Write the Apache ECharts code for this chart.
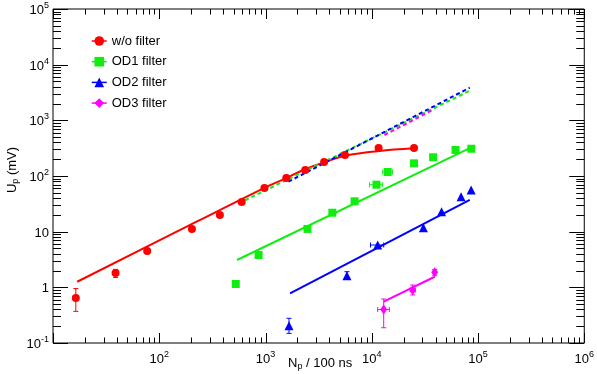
<!DOCTYPE html>
<html>
<head>
<meta charset="utf-8">
<script src="https://cdn.jsdelivr.net/npm/echarts@6/dist/echarts.min.js"></script>
<style>
  html, body { margin: 0; padding: 0; background: #fff; }
  #chart { width: 597px; height: 374px; }
</style>
</head>
<body>
<div id="chart"></div>
<script>
const FONT = '"Liberation Sans", Arial, Helvetica, sans-serif';

// Pulse amplitude U_p (mV) against photon number N_p per 100 ns
const noFilterN = [16.4, 38.8, 77, 203, 372, 597, 977, 1570, 2365, 3560, 5593, 11600, 25000];
const noFilterU = [0.64, 1.81, 4.5, 11.2, 19.9, 34, 61, 92, 128, 178, 238, 318, 318];
const od1N = [525, 861, 2484, 4256, 6890, 11070, 14130, 25000, 37800, 61400, 86500];
const od1U = [1.15, 3.81, 11.2, 21.9, 35.1, 69.8, 118, 169, 217, 293, 309];
const od2N = [1664, 5840, 11370, 30600, 45400, 69300, 86100];
const od2U = [0.205, 1.62, 5.76, 11.8, 22.9, 42.5, 56];
const od3N = [12950, 24300, 39100];
const od3U = [0.40, 0.895, 1.86];

// Error bars: [point index, N low, N high, U low, U high]  (0 = no bar)
const noFilterErr = [[0, 0, 0, 0.37, 0.95], [1, 0, 0, 1.5, 2.1]];
const od1Err = [[0, 0, 0, 1.0, 1.32], [5, 9530, 12680, 0, 0], [6, 12680, 15700, 0, 0]];
const od2Err = [[0, 0, 0, 0.149, 0.278], [1, 0, 0, 1.4, 1.91], [2, 9730, 12950, 0, 0]];
const od3Err = [[0, 11370, 14630, 0.188, 0.617], [1, 23000, 25700, 0.73, 1.10], [2, 0, 0, 1.65, 2.1]];

// Fit curves
const noFilterFitN = [16.9, 237, 957, 1549, 2350, 3556, 5624, 11800, 25000];
const noFilterFitU = [1.26, 15.9, 60.1, 90.8, 132, 176, 231, 281, 314];
const od1FitN = [539, 86500];
const od1FitU = [3.1, 327];
const od2FitN = [1702, 83600];
const od2FitU = [0.782, 37.1];
const od3FitN = [12950, 39100];
const od3FitU = [0.552, 1.55];

// Fits scaled back by the filter attenuation (dashed)
const od1ScaledN = [560, 83600];
const od1ScaledU = [32.3, 3400];
const od2ScaledN = [1641, 83600];
const od2ScaledU = [78.9, 3855];
const od3ScaledN = [13150, 38500];
const od3ScaledU = [545, 1578];

// Axis decades
const xDecades = [1, 2, 3, 4, 5, 6];
const yDecades = [-1, 0, 1, 2, 3, 4, 5];
const minorSteps = [2, 3, 4, 5, 6, 7, 8, 9];

const names = ['w/o filter', 'OD1 filter', 'OD2 filter', 'OD3 filter'];
const colors = ['#ff0000', '#10ee10', '#0000ff', '#ff00ff'];

const zip = (a, b) => a.map((v, i) => [v, b[i]]);

function errData(n, u, errs) {
  return errs.map(e => [n[e[0]], u[e[0]], e[1], e[2], e[3], e[4]]);
}

function errRender(color) {
  return function (params, api) {
    const x = api.value(0), y = api.value(1);
    const c = api.coord([x, y]);
    const kids = [];
    const st = { stroke: color, lineWidth: 1 };
    const cap = 2.5;
    const nLo = api.value(2), nHi = api.value(3), uLo = api.value(4), uHi = api.value(5);
    if (uLo > 0 && uHi > 0) {
      const lo = api.coord([x, uLo]), hi = api.coord([x, uHi]);
      kids.push({ type: 'line', shape: { x1: c[0], y1: lo[1], x2: c[0], y2: hi[1] }, style: st });
      kids.push({ type: 'line', shape: { x1: c[0] - cap, y1: lo[1], x2: c[0] + cap, y2: lo[1] }, style: st });
      kids.push({ type: 'line', shape: { x1: c[0] - cap, y1: hi[1], x2: c[0] + cap, y2: hi[1] }, style: st });
    }
    if (nLo > 0 && nHi > 0) {
      const lo = api.coord([nLo, y]), hi = api.coord([nHi, y]);
      kids.push({ type: 'line', shape: { x1: lo[0], y1: c[1], x2: hi[0], y2: c[1] }, style: st });
      kids.push({ type: 'line', shape: { x1: lo[0], y1: c[1] - cap, x2: lo[0], y2: c[1] + cap }, style: st });
      kids.push({ type: 'line', shape: { x1: hi[0], y1: c[1] - cap, x2: hi[0], y2: c[1] + cap }, style: st });
    }
    return { type: 'group', children: kids };
  };
}

// Tick marks on all four frame sides: [x, y, kind(0=y,1=x), major]
const tickData = [];
yDecades.forEach(d => {
  tickData.push([10, Math.pow(10, d), 0, 1]);
  if (d < 5) minorSteps.forEach(m => tickData.push([10, m * Math.pow(10, d), 0, 0]));
});
xDecades.forEach(d => {
  tickData.push([Math.pow(10, d), 0.1, 1, 1]);
  if (d < 6) minorSteps.forEach(m => tickData.push([m * Math.pow(10, d), 0.1, 1, 0]));
});

function tickRender(params, api) {
  const kind = api.value(2), major = api.value(3);
  const st = { stroke: '#000', lineWidth: 1 };
  if (kind === 0) {
    const v = api.value(1);
    const l = api.coord([10, v]), r = api.coord([1e6, v]);
    const len = major ? 15 : 8;
    const y = Math.round(l[1]) + 0.5;
    return { type: 'group', children: [
      { type: 'line', shape: { x1: l[0], y1: y, x2: l[0] + len, y2: y }, style: st },
      { type: 'line', shape: { x1: r[0], y1: y, x2: r[0] - len, y2: y }, style: st }
    ] };
  } else {
    const v = api.value(0);
    const b = api.coord([v, 0.1]), t = api.coord([v, 1e5]);
    const len = major ? 10 : 5.5;
    const x = Math.round(b[0]) + 0.5;
    return { type: 'group', children: [
      { type: 'line', shape: { x1: x, y1: b[1], x2: x, y2: b[1] - len }, style: st },
      { type: 'line', shape: { x1: x, y1: t[1], x2: x, y2: t[1] + len }, style: st }
    ] };
  }
}

const richPow = {
  b: { fontFamily: FONT, fontSize: 13, color: '#000', lineHeight: 16, verticalAlign: 'bottom' },
  s: { fontFamily: FONT, fontSize: 9, color: '#000', lineHeight: 6, verticalAlign: 'top' }
};

function powLabel(v, hideTen) {
  const e = Math.round(Math.log10(v));
  if (e === 0) return '{b|1}';
  if (e === 1) return hideTen ? '' : '{b|10}';
  return '{b|10}{s|' + e + '}';
}

const pointSets = [
  { n: noFilterN, u: noFilterU, err: noFilterErr, symbol: 'circle', size: 8 },
  { n: od1N, u: od1U, err: od1Err, symbol: 'rect', size: 8 },
  { n: od2N, u: od2U, err: od2Err, symbol: 'triangle', size: 9 },
  { n: od3N, u: od3U, err: od3Err, symbol: 'diamond', size: [7, 10] }
];
const fits = [
  [noFilterFitN, noFilterFitU],
  [od1FitN, od1FitU],
  [od2FitN, od2FitU],
  [od3FitN, od3FitU]
];
const scaled = [
  [od1ScaledN, od1ScaledU, colors[1]],
  [od2ScaledN, od2ScaledU, colors[2]],
  [od3ScaledN, od3ScaledU, colors[3]]
];

const series = [];
series.push({
  type: 'custom', coordinateSystem: 'cartesian2d', data: tickData,
  renderItem: tickRender, clip: false, silent: true, z: 1
});
fits.forEach((f, i) => {
  series.push({
    type: 'line', data: zip(f[0], f[1]), showSymbol: false, symbol: 'none',
    smooth: i === 0 ? 0.35 : false,
    lineStyle: { color: colors[i], width: 2 }, silent: true, z: 2
  });
});
scaled.forEach(s => {
  series.push({
    type: 'line', data: zip(s[0], s[1]), showSymbol: false, symbol: 'none',
    lineStyle: { color: s[2], width: 2, type: [4, 3] }, silent: true, z: 3
  });
});
pointSets.forEach((p, i) => {
  series.push({
    type: 'custom', coordinateSystem: 'cartesian2d', data: errData(p.n, p.u, p.err),
    renderItem: errRender(colors[i]), silent: true, z: 4, encode: { x: 0, y: 1 }
  });
});
pointSets.forEach((p, i) => {
  series.push({
    name: names[i], type: 'line', data: zip(p.n, p.u),
    symbol: p.symbol, symbolSize: p.size, showSymbol: true,
    itemStyle: { color: colors[i] },
    lineStyle: { color: colors[i], width: 1.5, opacity: 0 },
    silent: true, z: 5
  });
});

const chart = echarts.init(document.getElementById('chart'), null, { renderer: 'canvas' });
chart.setOption({
  animation: false,
  backgroundColor: '#fff',
  textStyle: { fontFamily: FONT },
  grid: { left: 53, right: 9, top: 9, bottom: 31, show: true, borderColor: '#000', borderWidth: 1, backgroundColor: 'transparent' },
  legend: {
    data: names, orient: 'vertical', left: 91, top: 34.5, padding: 0,
    itemWidth: 15, itemHeight: 12, itemGap: 7.7,
    textStyle: { fontFamily: FONT, fontSize: 13, color: '#000', lineHeight: 13 },
    lineStyle: { opacity: 1, width: 1.5 },
    selectedMode: false
  },
  xAxis: {
    type: 'log', logBase: 10, min: 10, max: 1e6,
    axisLine: { show: false }, axisTick: { show: false }, splitLine: { show: false },
    axisLabel: { margin: 7, formatter: v => powLabel(v, true), rich: richPow }
  },
  yAxis: {
    type: 'log', logBase: 10, min: 0.1, max: 1e5,
    axisLine: { show: false }, axisTick: { show: false }, splitLine: { show: false },
    axisLabel: { margin: 4, formatter: v => powLabel(v, false), rich: richPow }
  },
  graphic: [
    {
      type: 'text', left: 288, top: 357,
      style: {
        text: '{a|N}{p|p}{a| / 100 ns}',
        rich: {
          a: { fontFamily: FONT, fontSize: 13, color: '#000', lineHeight: 14, verticalAlign: 'top' },
          p: { fontFamily: FONT, fontSize: 9, color: '#000', lineHeight: 8, verticalAlign: 'bottom' }
        }
      }
    },
    {
      type: 'text', x: 13, y: 170, rotation: Math.PI / 2,
      style: {
        text: '{a|U}{p|p}{a| (mV)}', align: 'center', verticalAlign: 'middle',
        rich: {
          a: { fontFamily: FONT, fontSize: 13, color: '#000', lineHeight: 14, verticalAlign: 'top' },
          p: { fontFamily: FONT, fontSize: 9, color: '#000', lineHeight: 8, verticalAlign: 'bottom' }
        }
      }
    }
  ],
  series: series
});
</script>
</body>
</html>
